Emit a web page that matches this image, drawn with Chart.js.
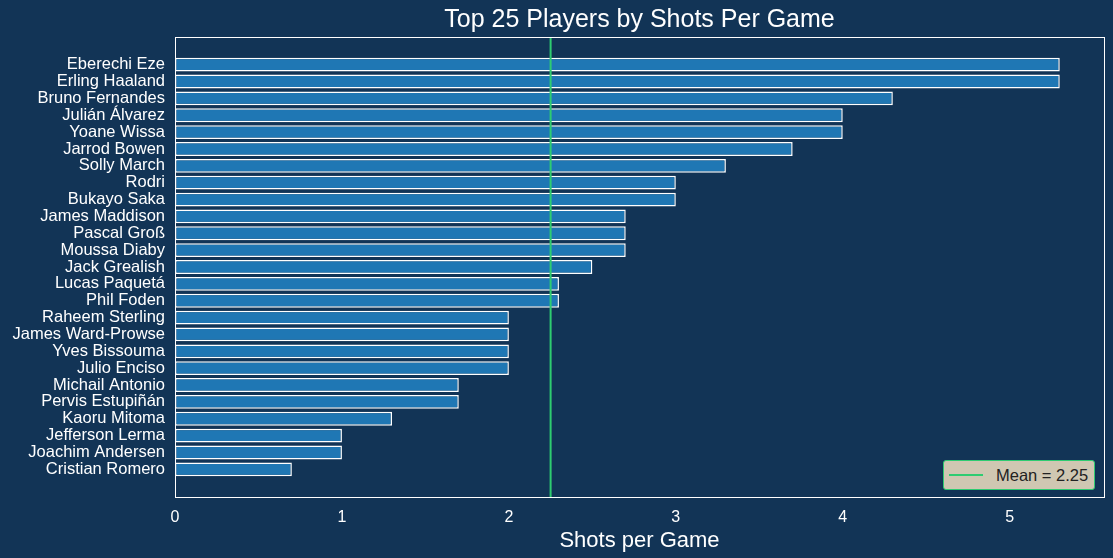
<!DOCTYPE html>
<html>
<head>
<meta charset="utf-8">
<script src="https://cdn.jsdelivr.net/npm/chart.js@4/dist/chart.umd.min.js"></script>
<style>
  html, body { margin: 0; padding: 0; background: #123456; }
  #wrap { position: relative; width: 1113px; height: 558px; }
  #legend {
    position: absolute; left: 943px; top: 460px; width: 150px; height: 28px;
    background: #cfc7b2; border: 1px solid #2ecc71; border-radius: 3px;
    font-family: 'Liberation Sans', Arial, sans-serif; font-size: 16.5px; color: #222;
    display: flex; align-items: center;
  }
  #legend .swatch { width: 34px; height: 2px; background: #2ecc71; margin: 0 13px 0 5px; }
</style>
</head>
<body>
<div id="wrap">
  <canvas id="chart" width="1113" height="558"></canvas>
  <div id="legend"><span class="swatch"></span><span id="legendText"></span></div>
</div>
<script>
const players = ['Eberechi Eze', 'Erling Haaland', 'Bruno Fernandes', 'Julián Álvarez', 'Yoane Wissa',
  'Jarrod Bowen', 'Solly March', 'Rodri', 'Bukayo Saka', 'James Maddison', 'Pascal Groß', 'Moussa Diaby',
  'Jack Grealish', 'Lucas Paquetá', 'Phil Foden', 'Raheem Sterling', 'James Ward-Prowse', 'Yves Bissouma',
  'Julio Enciso', 'Michail Antonio', 'Pervis Estupiñán', 'Kaoru Mitoma', 'Jefferson Lerma', 'Joachim Andersen',
  'Cristian Romero'];
const shots = [5.3, 5.3, 4.3, 4.0, 4.0, 3.7, 3.3, 3.0, 3.0, 2.7, 2.7, 2.7, 2.5, 2.3, 2.3,
  2.0, 2.0, 2.0, 2.0, 1.7, 1.7, 1.3, 1.0, 1.0, 0.7];
const xTicks = [0, 1, 2, 3, 4, 5];
const meanValue = 2.25;

const FONT = "'Liberation Sans', Arial, sans-serif";
const yMin = -1.64, yMax = players.length - 1 + 1.64;

document.getElementById('legendText').textContent = 'Mean = ' + meanValue.toFixed(2);

const framePlugin = {
  id: 'frame',
  beforeDraw(chart) {
    const { ctx, width, height } = chart;
    ctx.save();
    ctx.fillStyle = '#123456';
    ctx.fillRect(0, 0, width, height);
    ctx.restore();
  },
  afterDraw(chart) {
    const { ctx, chartArea: a } = chart;
    ctx.save();
    ctx.strokeStyle = '#ffffff';
    ctx.lineWidth = 1;
    ctx.strokeRect(Math.round(a.left) + 0.5, Math.round(a.top) + 0.5, Math.round(a.right - a.left), Math.round(a.bottom - a.top));
    ctx.fillStyle = '#ffffff';
    ctx.font = '25px ' + FONT;
    ctx.textAlign = 'center';
    ctx.textBaseline = 'middle';
    ctx.fillText('Top 25 Players by Shots Per Game', (a.left + a.right) / 2, 20);
    ctx.restore();
  }
};

new Chart(document.getElementById('chart'), {
  type: 'bar',
  data: {
    datasets: [
      {
        label: 'Shots',
        data: shots.map((v, i) => ({ x: v, y: i })),
        backgroundColor: '#1f77b4',
        borderColor: '#ffffff',
        borderWidth: 1.5,
        borderSkipped: false,
        barPercentage: 0.82,
        categoryPercentage: 1,
        order: 2
      },
      {
        type: 'line',
        label: 'Mean = ' + meanValue.toFixed(2),
        data: [{ x: meanValue, y: yMin }, { x: meanValue, y: yMax }],
        borderColor: '#2ecc71',
        borderWidth: 2,
        pointRadius: 0,
        indexAxis: 'y',
        order: 1
      }
    ]
  },
  options: {
    indexAxis: 'y',
    responsive: false,
    animation: false,
    layout: { padding: { top: 37, right: 9, left: 0, bottom: 0 } },
    plugins: {
      legend: { display: false },
      title: { display: false },
      tooltip: { enabled: false }
    },
    scales: {
      x: {
        type: 'linear',
        min: 0,
        max: 5.565,
        afterBuildTicks: s => { s.ticks = xTicks.map(v => ({ value: v })); },
        afterFit: s => { s.height = 61; },
        grid: { display: false, drawTicks: false },
        border: { display: false },
        ticks: { color: '#ffffff', font: { family: FONT, size: 16 }, padding: 11 },
        title: { display: true, text: 'Shots per Game', color: '#ffffff', font: { family: FONT, size: 22 }, padding: { top: 2, bottom: 4 } }
      },
      y: {
        type: 'linear',
        reverse: true,
        offset: false,
        min: yMin,
        max: yMax,
        afterBuildTicks: s => { s.ticks = players.map((_, i) => ({ value: i })); },
        afterFit: s => { s.width = 175; },
        grid: { display: false, drawTicks: false },
        border: { display: false },
        ticks: {
          color: '#ffffff',
          font: { family: FONT, size: 16.5 },
          padding: 10,
          autoSkip: false,
          callback: v => players[v]
        }
      }
    }
  },
  plugins: [framePlugin]
});
</script>
</body>
</html>
